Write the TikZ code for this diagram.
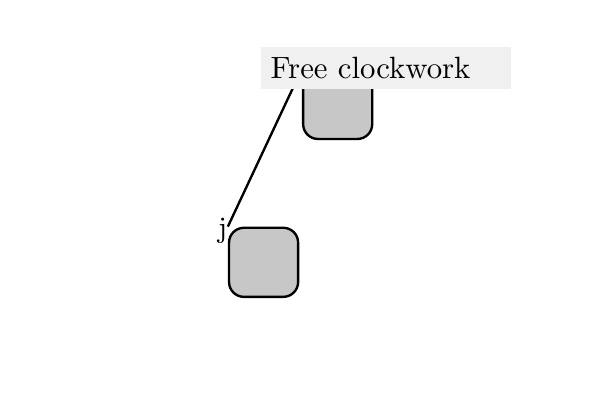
\documentclass[tikz,border=0pt]{standalone}
\begin{document}
\begin{tikzpicture}[scale=1, auto,swap]
 \useasboundingbox (0,0) rectangle (7.125,4.75);
 \tikzset{block/.style={draw, fill=black!22, thick, rounded corners=5pt, minimum size=0.82cm, inner sep=0pt}}

 %blocks
 \foreach \i/\x/\y in {a/4.01/3.51, b/3.13/1.635} {
         \node[block] (\i) at (\x,\y) {};
 }

 %link
 \draw[thick] (b.north west) -- (a.north west);
 \node[anchor=east, inner sep=0pt, yshift=-1.5pt] (jlab) at (b.north west) {j};

 %caption
 \node[fill=black!6, text width=78pt, anchor=south west, font=\fontsize{10.4}{12}\selectfont] (free) at (3.09,3.69) {Free clockwork};

\end{tikzpicture}
\end{document}
